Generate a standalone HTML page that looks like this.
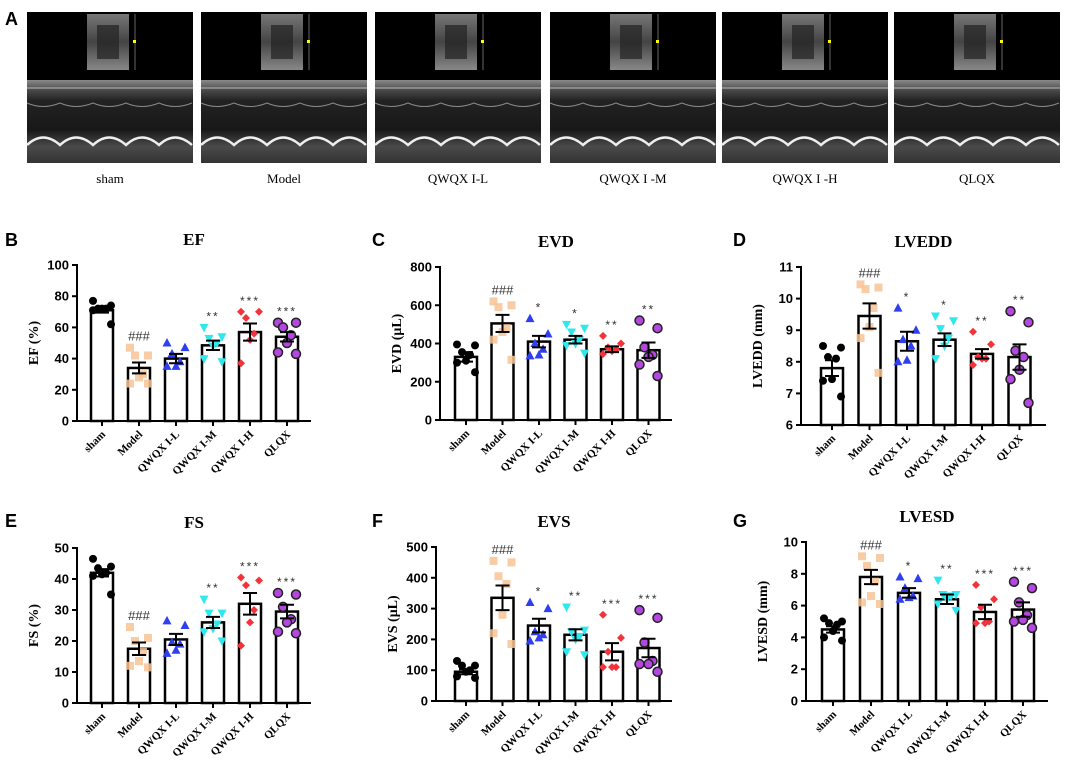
<!DOCTYPE html>
<html><head><meta charset="utf-8"><style>
html,body{margin:0;padding:0;background:#fff;}
body{width:1065px;height:763px;overflow:hidden;position:relative;font-family:"Liberation Sans",sans-serif;}
svg{position:absolute;left:0;top:0;}
</style></head><body>
<svg id="fig" width="1065" height="763" viewBox="0 0 1065 763">
<defs>
<linearGradient id="mmode" x1="0" y1="0" x2="0" y2="1">
<stop offset="0" stop-color="#8a8a8a"/><stop offset="0.12" stop-color="#4a4a4a"/><stop offset="0.25" stop-color="#222"/>
<stop offset="0.6" stop-color="#181818"/><stop offset="0.8" stop-color="#4a4a4a"/><stop offset="1" stop-color="#333"/>
</linearGradient>
<linearGradient id="inset" x1="0" y1="0" x2="0" y2="1">
<stop offset="0" stop-color="#777"/><stop offset="0.5" stop-color="#444"/><stop offset="1" stop-color="#888"/>
</linearGradient>
</defs>
<g id="echo"></g>
<g id="charts"></g>
</svg>
<script>
// ---- chart data ----
const categories = ["sham","Model","QWQX I-L","QWQX I-M","QWQX I-H","QLQX"];
const efMeans = [71,34,40,48.5,57,54];
const efSem = [1.5,3.5,3,3,5.5,3];
const efPoints = [[77,74,72,72,72,71,62],[47,42,42,30,28,24,24],[50,47,43,38,35,35],[60,54,53,50,48,40,38],[70,70,66,56,52,37],[63,63,60,55,50,44,43]];
const efSig = ["","###","","**","***","***"];
const efTicks = [0,20,40,60,80,100];
const evdMeans = [330,505,410,420,370,365];
const evdSem = [25,45,30,20,15,40];
const evdPoints = [[395,390,355,340,310,300,250],[620,600,590,480,460,420,315],[530,450,400,370,340,335],[500,480,460,420,400,390,350],[440,400,380,370,360,345],[520,480,380,340,330,290,230]];
const evdSig = ["","###","*","*","**","**"];
const evdTicks = [0,200,400,600,800];
const lveddMeans = [7.8,9.45,8.65,8.7,8.25,8.15];
const lveddSem = [0.25,0.4,0.3,0.2,0.15,0.4];
const lveddPoints = [[8.5,8.45,8.15,8.1,7.45,7.4,6.9],[10.45,10.35,10.3,9.7,9.1,8.75,7.65],[9.7,9.0,8.7,8.5,8.05,8.0],[9.45,9.3,9.05,8.75,8.5,8.1],[8.95,8.55,8.15,8.1,8.1,7.9],[9.6,9.25,8.35,8.15,7.75,7.45,6.7]];
const lveddSig = ["","###","*","*","**","**"];
const lveddTicks = [6,7,8,9,10,11];
const fsMeans = [42,17.5,20.5,26,32,29.5];
const fsSem = [1.2,2,1.8,1.8,3.5,2.2];
const fsPoints = [[46.5,44,43.5,42,41.5,41,35],[24.5,21,20,16.5,13.5,12,11.5],[26.5,25,19.5,19,17,16],[33.5,29,29,25.5,24,23,20],[40.5,39.5,38,30,26,18.5],[35.5,35,31,27,26,23,22.5]];
const fsSig = ["","###","","**","***","***"];
const fsTicks = [0,10,20,30,40,50];
const evsMeans = [95,335,245,215,160,172];
const evsSem = [8,40,22,18,28,30];
const evsPoints = [[130,115,115,100,95,80,75],[455,450,405,380,280,220,185],[320,300,225,215,205,195],[305,230,225,210,200,160,150],[280,205,160,110,110,110],[295,270,190,130,120,120,95]];
const evsSig = ["","###","*","**","***","***"];
const evsTicks = [0,100,200,300,400,500];
const lvesdMeans = [4.5,7.8,6.8,6.4,5.6,5.75];
const lvesdSem = [0.2,0.45,0.3,0.3,0.45,0.45];
const lvesdPoints = [[5.2,5.0,4.9,4.8,4.4,4.0,3.8],[9.1,9.0,8.5,7.5,6.6,6.2,6.1],[7.8,7.7,7.1,6.6,6.5,6.4],[7.6,6.7,6.7,6.6,6.4,6.1,5.7],[7.3,6.4,5.9,5.0,4.9,4.9],[7.5,7.1,6.2,5.4,5.1,5.0,4.6]];
const lvesdSig = ["","###","*","**","***","***"];
const lvesdTicks = [0,2,4,6,8,10];

const NS="http://www.w3.org/2000/svg";
function mk(tag,attrs,parent){const e=document.createElementNS(NS,tag);for(const k in attrs)e.setAttribute(k,attrs[k]);parent.appendChild(e);return e;}

// ---- echo images ----
const echo=document.getElementById('echo');
const imgX=[27,201,375,550,722,894];
const imgLabels=["sham","Model","QWQX I-L","QWQX I -M","QWQX I -H","QLQX"];
imgX.forEach((x,i)=>{
  const g=mk('g',{},echo);
  
  
  mk('rect',{x:x,y:12,width:166,height:151,fill:'#000'},g);
  const ix = x+60;
  mk('rect',{x:ix,y:14,width:42,height:56,fill:'url(#inset)'},g);
  mk('rect',{x:ix+10,y:25,width:22,height:34,fill:'#222',opacity:0.7},g);
  mk('line',{x1:ix+48,y1:14,x2:ix+48,y2:70,stroke:'#666','stroke-width':1},g);
  mk('rect',{x:ix+46,y:40,width:3,height:3,fill:'#ff0'},g);
  mk('rect',{x:x,y:80,width:166,height:83,fill:'url(#mmode)'},g);
  let d='M'+x+' 145';
  for(let k=0;k<5;k++){const sx=x+k*33;d+=' Q'+(sx+16)+' 130 '+(sx+33)+' 145';}
  mk('path',{d:d,stroke:'#eee','stroke-width':2.5,fill:'none'},g);
  let d2='M'+x+' 103';
  for(let k=0;k<5;k++){const sx=x+k*33;d2+=' Q'+(sx+16)+' 110 '+(sx+33)+' 103';}
  mk('path',{d:d2,stroke:'#888','stroke-width':1,fill:'none'},g);
  mk('line',{x1:x,y1:88,x2:x+166,y2:88,stroke:'#bbb','stroke-width':1},g);
  const t=mk('text',{x:x+83,y:183,'text-anchor':'middle','font-family':'"Liberation Serif",serif','font-size':13,fill:'#000'},g);
  t.textContent=imgLabels[i];
  
  
});
const la=mk('text',{x:5,y:25,'font-size':18,'font-weight':'bold',fill:'#000'},echo);
la.textContent='A';



// ---- charts ----
const colors=['#000','#f7c394','#2f3ff0','#2ee8ee','#f2333a','#b347e0'];
const shapes=['circle','square','tri','tridown','diamond','bigcircle'];
const offs=[-9,9,-4,4,0,-9,9];
const panels=[
 {id:'ef',letter:'B',title:'EF',ylab:'EF (%)',ax:77,top:265,bot:421,end:311,c0:102,dc:37,min:0,max:100,means:efMeans,sem:efSem,pts:efPoints,sig:efSig,ticks:efTicks,lx:5,ly:246},
 {id:'evd',letter:'C',title:'EVD',ylab:'EVD (μL)',ax:440,top:267,bot:420,end:672,c0:466,dc:36.5,min:0,max:800,means:evdMeans,sem:evdSem,pts:evdPoints,sig:evdSig,ticks:evdTicks,lx:372,ly:246},
 {id:'lvedd',letter:'D',title:'LVEDD',ylab:'LVEDD (mm)',ax:801,top:267,bot:425,end:1046,c0:832,dc:37.5,min:6,max:11,means:lveddMeans,sem:lveddSem,pts:lveddPoints,sig:lveddSig,ticks:lveddTicks,lx:733,ly:246},
 {id:'fs',letter:'E',title:'FS',ylab:'FS (%)',ax:77,top:548,bot:703,end:311,c0:102,dc:37,min:0,max:50,means:fsMeans,sem:fsSem,pts:fsPoints,sig:fsSig,ticks:fsTicks,lx:5,ly:527},
 {id:'evs',letter:'F',title:'EVS',ylab:'EVS (μL)',ax:436,top:547,bot:701,end:672,c0:466,dc:36.5,min:0,max:500,means:evsMeans,sem:evsSem,pts:evsPoints,sig:evsSig,ticks:evsTicks,lx:372,ly:527},
 {id:'lvesd',letter:'G',title:'LVESD',ylab:'LVESD (mm)',ax:806,top:542,bot:701,end:1048,c0:833,dc:38,min:0,max:10,means:lvesdMeans,sem:lvesdSem,pts:lvesdPoints,sig:lvesdSig,ticks:lvesdTicks,lx:733,ly:527}
];
const charts=document.getElementById('charts');
function marker(g,shape,cx,cy,col){
  let e;
  if(shape==='circle') e=mk('circle',{cx:cx,cy:cy,r:4,fill:col},g);
  else if(shape==='square') e=mk('rect',{x:cx-4,y:cy-4,width:8,height:8,fill:col,opacity:0.85},g);
  else if(shape==='tri') e=mk('polygon',{points:`${cx},${cy-5} ${cx+4.5},${cy+3.5} ${cx-4.5},${cy+3.5}`,fill:col},g);
  else if(shape==='tridown') e=mk('polygon',{points:`${cx},${cy+5} ${cx+4.5},${cy-3.5} ${cx-4.5},${cy-3.5}`,fill:col},g);
  else if(shape==='diamond') e=mk('polygon',{points:`${cx},${cy-4} ${cx+4},${cy} ${cx},${cy+4} ${cx-4},${cy}`,fill:col},g);
  else e=mk('circle',{cx:cx,cy:cy,r:4.5,fill:col,stroke:'#222','stroke-width':1.5},g);
  return e;
}
panels.forEach(p=>{
  const g=mk('g',{},charts);
  
  
  const y=v=>p.bot-(v-p.min)/(p.max-p.min)*(p.bot-p.top);
  const xc=i=>p.c0+i*p.dc;
  const L=mk('text',{x:p.lx,y:p.ly,'font-size':18,'font-weight':'bold',fill:'#000'},g);
  L.textContent=p.letter;
  
  
  const T=mk('text',{x:(p.ax+p.end)/2,y:p.top-20,'text-anchor':'middle','font-family':'"Liberation Serif",serif','font-size':17,'font-weight':'bold',fill:'#000'},g);
  T.textContent=p.title;
  
  
  const Y=mk('text',{x:0,y:0,'text-anchor':'middle','font-family':'"Liberation Serif",serif','font-size':14,'font-weight':'bold',fill:'#000',transform:`translate(${p.ax-39},${(p.top+p.bot)/2}) rotate(-90)`},g);
  Y.textContent=p.ylab;
  
  
  p.means.forEach((m,i)=>{
    const b=mk('rect',{x:xc(i)-11,y:y(m),width:22,height:p.bot-y(m),fill:'#fff',stroke:'#000','stroke-width':2.5},g);
    
    
  });
  p.pts.forEach((arr,i)=>{
    arr.forEach((v,k)=>{
      const m=marker(g,shapes[i],xc(i)+offs[k%offs.length],y(v),colors[i]);
      
      
    });
  });
  p.means.forEach((m,i)=>{
    const cx=xc(i),hi=y(m+p.sem[i]),lo=y(m-p.sem[i]);
    const e=mk('path',{d:`M${cx} ${hi} V${lo} M${cx-7} ${hi} H${cx+7} M${cx-7} ${lo} H${cx+7}`,stroke:'#000','stroke-width':2,fill:'none'},g);
    
    
  });
  p.sig.forEach((s,i)=>{
    if(!s) return;
    const top=Math.min(...p.pts[i].map(y), y(p.means[i]+p.sem[i]));
    const t=mk('text',{x:xc(i),y:top-7,'text-anchor':'middle','font-size':s[0]==='#'?13:12,fill:'#333','letter-spacing':s[0]==='*'?'2':'0'},g);
    t.textContent=s;
    
    
  });
  const ya=mk('line',{x1:p.ax,y1:p.top-1,x2:p.ax,y2:p.bot,stroke:'#000','stroke-width':2},g);
  
  
  const xa=mk('line',{x1:p.ax-1,y1:p.bot,x2:p.end,y2:p.bot,stroke:'#000','stroke-width':2},g);
  
  
  p.ticks.forEach(v=>{
    mk('line',{x1:p.ax-5,y1:y(v),x2:p.ax,y2:y(v),stroke:'#000','stroke-width':2},g);
    const t=mk('text',{x:p.ax-8,y:y(v)+4.5,'text-anchor':'end','font-size':13,'font-weight':'bold',fill:'#000'},g);
    t.textContent=v;
    
    
  });
  categories.forEach((c,i)=>{
    mk('line',{x1:xc(i),y1:p.bot,x2:xc(i),y2:p.bot+5,stroke:'#000','stroke-width':2},g);
    const t=mk('text',{x:0,y:0,'text-anchor':'end','font-family':'"Liberation Serif",serif','font-size':11,'font-weight':'bold',fill:'#000',transform:`translate(${xc(i)+4},${p.bot+14}) rotate(-45)`},g);
    t.textContent=c;
    
    
  });
});
</script>
</body></html>
